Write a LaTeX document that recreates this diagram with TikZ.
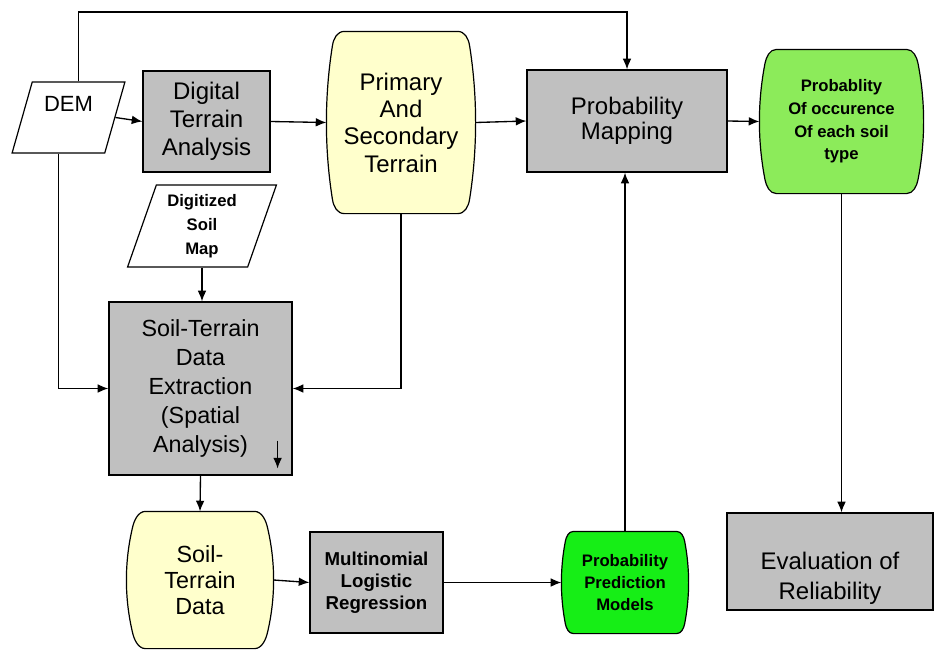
\documentclass[tikz,border=0pt]{standalone}
\usepackage{fontspec}
\setmainfont{Liberation Sans}
\usepackage{tikz}
\usetikzlibrary{arrows.meta,shapes.geometric,calc,backgrounds}

\definecolor{boxgray}{HTML}{C0C0C0}
\definecolor{paleyellow}{HTML}{FFFFCC}
\definecolor{softgreen}{HTML}{8CEB5A}
\definecolor{vividgreen}{HTML}{16EE16}

% outline with bulging sides round a named node: node, top inset, height, fill
\newcommand{\barrel}[4]{%
  \pgfmathsetmacro\barrelS{(#3-1.6*#2)/3}%
  \draw[fill=#4, line width=0.9pt]
    ($(#1.north west)+(#2,0)$) -- ($(#1.north east)+(-#2,0)$)
    .. controls +({0.4*#2},0) and +({-0.0667*#2},{-0.15*\barrelS}) .. ($(#1.north east)+({-#2/3},{0.8*#2})$)
    .. controls +({4*#2/9},\barrelS) and +({4*#2/9},{-\barrelS}) .. ($(#1.south east)+({-#2/3},{-0.8*#2})$)
    .. controls +({-0.0667*#2},{0.15*\barrelS}) and +({0.4*#2},0) .. ($(#1.south east)+(-#2,0)$)
    -- ($(#1.south west)+(#2,0)$)
    .. controls +({-0.4*#2},0) and +({0.0667*#2},{0.15*\barrelS}) .. ($(#1.south west)+({#2/3},{-0.8*#2})$)
    .. controls +({-4*#2/9},{-\barrelS}) and +({-4*#2/9},\barrelS) .. ($(#1.north west)+({#2/3},{0.8*#2})$)
    .. controls +({0.0667*#2},{-0.15*\barrelS}) and +({-0.4*#2},0) .. ($(#1.north west)+(#2,0)$) -- cycle;}

\begin{document}
\begin{tikzpicture}[x=0.75pt, y=-0.75pt,
  every node/.style={align=center, inner sep=0pt, line width=0.9pt},
  box/.style={draw, rectangle, fill=boxgray},
  slanted/.style={draw, trapezium, trapezium left angle=72, trapezium right angle=108,
    trapezium stretches=true, fill=white},
  barrelnode/.style={rectangle},
  flow/.style={-{Latex[length=8pt,width=6.5pt]}, line width=1pt},
  bigtext/.style={font=\fontsize{18}{21}\selectfont},
  smalltext/.style={font=\bfseries\fontsize{12.5}{17}\selectfont}
]
\useasboundingbox (0,0) rectangle (935,650);

\node[slanted, minimum width=84.75pt, minimum height=53.25pt,
  font=\fontsize{16.5}{20}\selectfont] (dem) at (68.5,117.5) {\rule[-20pt]{0pt}{20pt}DEM};
\node[box, minimum width=95.25pt, minimum height=75.75pt, bigtext] (dta) at (206.5,121.5)
  {Digital\\Terrain\\Analysis};
\node[barrelnode, minimum width=111pt, minimum height=135.75pt,
  font=\fontsize{18}{20.5}\selectfont] (pst) at (401,122.5) {Primary\\And\\Secondary\\Terrain};
\node[box, minimum width=150pt, minimum height=76.5pt,
  font=\fontsize{18}{19}\selectfont] (pm) at (627,121) {Probability\\Mapping};
\node[barrelnode, minimum width=122.25pt, minimum height=107.25pt, smalltext] (occ) at (841.5,121.5)
  {Probablity\\Of occurence\\Of each soil\\type};
\node[slanted, trapezium left angle=71, trapezium right angle=109,
  minimum width=112.5pt, minimum height=61.5pt,
  font=\bfseries\fontsize{12.5}{18}\selectfont] (dsm) at (202,226) {Digitized\\Soil\\Map};
\node[box, minimum width=137.25pt, minimum height=129.75pt,
  font=\fontsize{17.5}{21.75}\selectfont] (ste) at (200.5,388.5)
  {Soil-Terrain\\Data\\Extraction\\(Spatial\\Analysis)};
\node[barrelnode, minimum width=109.5pt, minimum height=102pt,
  font=\fontsize{17.5}{19.5}\selectfont] (std) at (200,580) {Soil-\\Terrain\\Data};
\node[box, minimum width=99.75pt, minimum height=75.75pt,
  font=\bfseries\fontsize{14}{16.5}\selectfont] (mlr) at (376.5,582.5)
  {Multinomial\\Logistic\\Regression};
\node[barrelnode, minimum width=94.5pt, minimum height=75.75pt,
  font=\bfseries\fontsize{12.5}{16.5}\selectfont] (ppm) at (625,582.5)
  {Probability\\Prediction\\Models};
\node[box, minimum width=154.5pt, minimum height=72.75pt,
  font=\fontsize{18}{22.5}\selectfont] (eval) at (830,561.5)
  {\rule{0pt}{38pt}Evaluation of\\Reliability};

\begin{scope}[on background layer]
  \barrel{pst}{18}{181}{paleyellow}
  \barrel{std}{19}{136}{paleyellow}
  \barrel{occ}{17}{143}{softgreen}
  \barrel{ppm}{12}{101}{vividgreen}
\end{scope}

\coordinate (top) at (0,12);
\coordinate (tick) at ($(ste.south east)+(-15,-35)$);

\draw[flow] (dem.east) -- (dta.west);
\draw[flow] (dta.east) -- (pst.west);
\draw[flow] (pst.east) -- (pm.west);
\draw[flow] (pm.east) -- (occ.west);
\draw[flow] (dem.top side) -- (dem.top side |- top) -| (pm.north);
\draw[flow] (dem.bottom side) |- (ste.west);
\draw[flow] (pst.south) |- (ste.east);
\draw[flow] (dsm.center |- dsm.south) -- (dsm.center |- ste.north);
\draw[flow] (tick) -- ++(0,28);
\draw[flow] (ste.south) -- (std.north);
\draw[flow] (std.east) -- (mlr.west);
\draw[flow] (mlr.east) -- (ppm.west);
\draw[flow] (ppm.north) -- (ppm.north |- pm.south);
\draw[flow] (occ.south) -- (occ.south |- eval.north);
\end{tikzpicture}
\end{document}
